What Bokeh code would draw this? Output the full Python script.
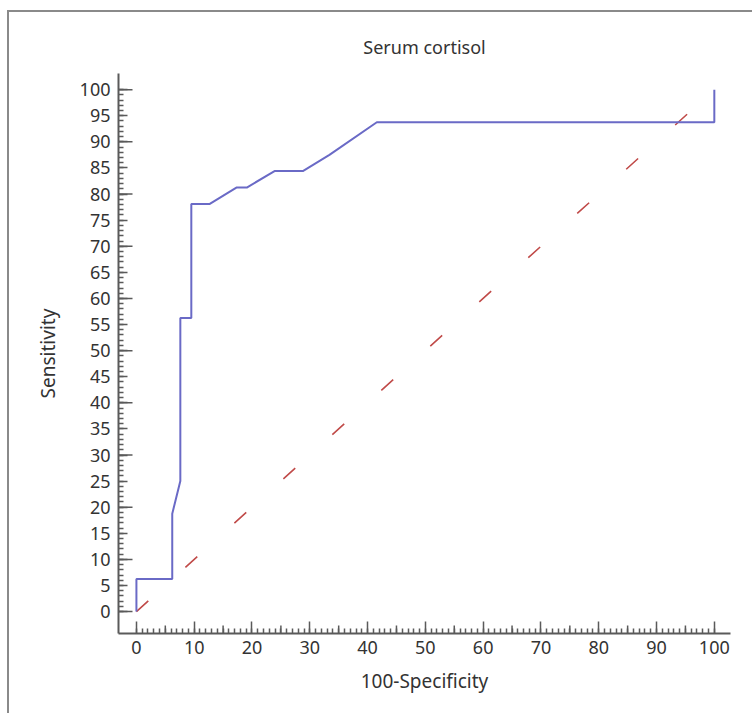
import math
from bokeh.plotting import figure
from bokeh.models import Range1d, FixedTicker
from bokeh.embed import file_html
from bokeh.resources import INLINE

# ROC curve (100-Specificity vs Sensitivity)
fpr = [0, 0, 6.2, 6.2, 7.6, 7.6, 9.5, 9.5, 12.7, 17.3, 19.1, 23.9, 28.8, 33.4, 41.6, 100, 100]
tpr = [0, 6.25, 6.25, 18.75, 25, 56.25, 56.25, 78.1, 78.1, 81.25, 81.25, 84.4, 84.4, 87.5, 93.75, 93.75, 100]

# reference (chance) diagonal
diag_x = [0, 100]
diag_y = [0, 100]

# ticks
x_major = list(range(0, 101, 10))
x_medium = list(range(5, 100, 10))
x_minor = list(range(0, 101, 1))
y_labelled = list(range(0, 101, 5))
y_long = list(range(0, 101, 10))
y_minor = list(range(0, 101, 1))

FONT = "Noto Sans"
TXT = "#333333"
AX = "#5a5a5a"

p = figure(width=745, height=703,
           x_range=Range1d(-3.1, 102.8), y_range=Range1d(-4.2, 103.1),
           output_backend="svg", toolbar_location=None,
           min_border_left=109, min_border_right=24,
           min_border_top=61, min_border_bottom=82,
           title="Serum cortisol")
p.styles = {"border-top": "2px solid #8a8a8a", "border-left": "2px solid #8a8a8a",
            "border-right": "none", "border-bottom": "none",
            "margin-left": "7px", "margin-top": "10px"}
p.grid.visible = False
p.outline_line_color = None
p.background_fill_color = "white"
p.border_fill_color = "white"

p.title.align = "center"
p.title.text_font = FONT
p.title.text_font_size = "18px"
p.title.text_font_style = "normal"
p.title.text_color = TXT
p.title.standoff = 30

for ax in (p.xaxis[0], p.yaxis[0]):
    ax.axis_line_color = AX
    ax.axis_line_width = 2
    ax.major_tick_line_color = AX
    ax.minor_tick_line_color = AX
    ax.major_tick_line_width = 1.5
    ax.minor_tick_line_width = 1.5
    ax.major_tick_out = 0
    ax.minor_tick_out = 0
    ax.major_label_text_font = FONT
    ax.major_label_text_font_size = "18px"
    ax.major_label_text_color = TXT
    ax.axis_label_text_font = FONT
    ax.axis_label_text_font_size = "19px"
    ax.axis_label_text_font_style = "normal"
    ax.axis_label_text_color = TXT

p.xaxis.ticker = FixedTicker(ticks=x_major, minor_ticks=x_minor)
p.xaxis.major_tick_in = 12
p.xaxis.minor_tick_in = 5
p.xaxis.major_label_standoff = 7
p.xaxis.axis_label = "100-Specificity"
p.xaxis.axis_label_standoff = 11

p.yaxis.ticker = FixedTicker(ticks=y_labelled, minor_ticks=y_minor)
p.yaxis.major_tick_in = 9
p.yaxis.minor_tick_in = 5
p.yaxis.major_label_standoff = 8
p.yaxis.axis_label = "Sensitivity"
p.yaxis.axis_label_standoff = 16

# medium ticks on x (every 5) and long ticks on y (every 10), clipped at the frame edge
p.scatter(x_medium, [p.y_range.start] * len(x_medium), marker="dash", angle=math.pi / 2,
          size=16, line_color=AX, line_width=1.5)
p.scatter([p.x_range.start] * len(y_long), y_long, marker="dash", angle=0,
          size=28, line_color=AX, line_width=1.5)

p.line(diag_x, diag_y, line_color="#c04a48", line_width=1.6, line_dash="16 50")
p.line(fpr, tpr, line_color="#6a6ac6", line_width=2)

open("out.html", "w").write(file_html(p, INLINE))
